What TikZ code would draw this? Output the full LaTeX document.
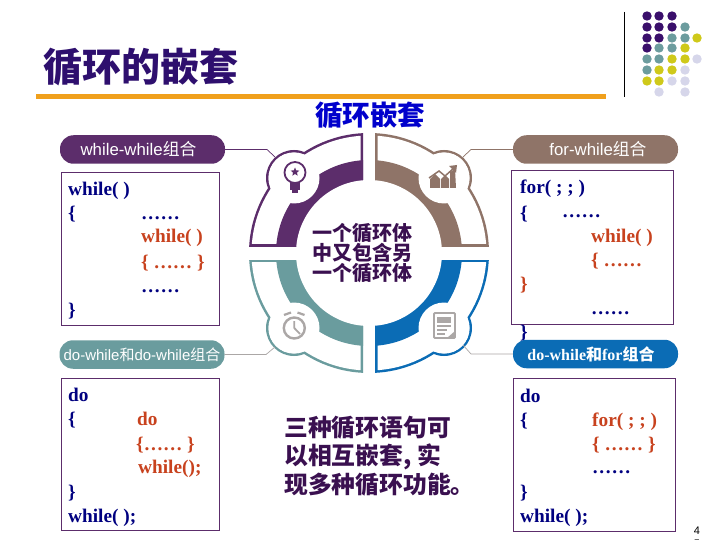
\documentclass[tikz,border=0pt]{standalone}
\usepackage{fontspec}
\setmainfont{Liberation Serif}
\newfontfamily\sansf{Liberation Sans}
\newfontfamily\cjk{Noto Sans CJK SC}
\usetikzlibrary{shapes.geometric}
\definecolor{cPur}{HTML}{5C2D6B}
\definecolor{cBro}{HTML}{8F7468}
\definecolor{cTea}{HTML}{6A9C9E}
\definecolor{cBlu}{HTML}{0B6CB5}
\definecolor{cIco}{HTML}{ABA7A6}
\definecolor{cNavy}{HTML}{000080}
\definecolor{cRed}{HTML}{C8421E}
\definecolor{cDark}{HTML}{3A1050}
\definecolor{cTitle}{HTML}{2E0F6E}
\definecolor{cOra}{HTML}{F0A01C}
\definecolor{dP}{HTML}{3A0F6B}
\definecolor{dT}{HTML}{6C9C9E}
\definecolor{dY}{HTML}{CFC91A}
\definecolor{dL}{HTML}{D6D6EA}
\tikzset{
  pill/.style={rounded corners=13.5pt,minimum width=165pt,minimum height=28.5pt,inner sep=0pt,text=white,font=\fontsize{15}{15}\selectfont},
  codebox/.style={draw=#1,line width=1pt,fill=white},
  codebox/.default={cPur},
  nv/.style={anchor=base west,inner sep=0pt,text=cNavy,font=\fontsize{19.3}{20}\selectfont\bfseries},
  rd/.style={nv,text=cRed},
  cen/.style={anchor=center,inner sep=0pt,text=cDark,font=\fontsize{20}{20}\selectfont\cjk\bfseries},
  low/.style={anchor=west,inner sep=0pt,text=cDark,font=\fontsize{23.8}{24}\selectfont\cjk\bfseries},
  conn/.style={line width=0.7pt},
  dot/.style={radius=4.7pt}
}
\newcommand{\ringquad}[3]{%
  \begin{scope}[shift={(369,253)},xscale=#1,yscale=#2]
    \begin{scope}
      \clip (6,7) rectangle (170,170);
      \fill[#3] (0,0) circle[radius=120];
      \fill[#3] (75,75) circle[radius=28];
    \end{scope}
    \begin{scope}
      \clip (8.5,9.5) rectangle (170,170);
      \fill[white] (0,0) circle[radius=117.5];
      \fill[white] (75,75) circle[radius=25.5];
    \end{scope}
    \begin{scope}
      \clip (6,7) rectangle (170,170);
      \fill[#3] (0,0) circle[radius=93];
      \fill[white] (75,75) circle[radius=25.5];
    \end{scope}
  \end{scope}}
\begin{document}
\begin{tikzpicture}[x=1pt,y=-1pt]
\useasboundingbox (0,0) rectangle (720,540);
\clip (0,0) rectangle (720,540);
\fill[white] (0,0) rectangle (720,540);
% header
\node[anchor=center,inner sep=0pt,text=cTitle,font=\fontsize{39}{39}\selectfont\cjk\bfseries] (title) at (141,67) {循环的嵌套};
\fill[cOra] (36,94) rectangle (606,99);
\draw[black,line width=1pt] (624,12) -- (624,97);
\foreach \x/\y/\c in {647/16/dP,659/16/dP,672/16/dP,
  647/27/dP,659/27/dP,672/27/dP,685/27/dT,
  647/38/dP,659/38/dP,672/38/dT,685/38/dT,697/38/dY,
  647/48/dP,659/48/dT,672/48/dT,685/48/dY,
  647/59/dT,659/59/dT,672/59/dY,685/59/dY,697/59/dL,
  647/70/dT,659/70/dY,672/70/dY,685/70/dL,
  647/81/dY,659/81/dY,672/81/dL,685/81/dL,
  659/92/dL,685/92/dL}{\fill[\c] (\x,\y) circle[dot];}
\node[anchor=center,inner sep=0pt,text=blue!80!black,font=\fontsize{27.5}{28}\selectfont\cjk\bfseries] (sub) at (370,115) {循环嵌套};
% connectors (behind the ring and pills)
\node[pill,fill=cPur] (p1) at (142.5,149.5) {\hspace*{-8pt}\fontsize{16.8}{17}\selectfont\sansf while-while{\cjk 组合}};
\node[pill,fill=cBro] (p2) at (595.5,149.5) {\hspace*{5pt}\fontsize{16.8}{17}\selectfont\sansf for-while{\cjk 组合}};
\coordinate (k1) at (267,149.5); \coordinate (k1e) at (275,157);
\coordinate (k2) at (471,149.5); \coordinate (k2e) at (463,157);
\coordinate (k3) at (266,354.5); \coordinate (k3e) at (275,347);
\coordinate (k4) at (471,354); \coordinate (k4e) at (463,345);
\draw[conn,cPur] (p1.east) -- (k1) -- (k1e);
\draw[conn,cBro] (p2.west) -- (k2) -- (k2e);
% ring
\ringquad{-1}{-1}{cPur}
\ringquad{1}{-1}{cBro}
\ringquad{-1}{1}{cTea}
\ringquad{1}{1}{cBlu}
\fill[white] (369,253) circle[radius=73];
% icons
\draw[cPur,line width=1.8pt] (295,172.5) circle[radius=10.5];
\fill[cPur] (290,183) rectangle (300,190);
\fill[cPur] (292,190) rectangle (298,193);
\node[star,star points=5,star point ratio=2.2,fill=cPur,minimum size=9pt,inner sep=0pt] (bulbstar) at (295,172) {};
\fill[cBro] (430,188) -- (430,179) -- (435,174) -- (440,179) -- (440,188) -- cycle;
\fill[cBro] (441,188) -- (441,179) -- (445,175) -- (449,179) -- (449,188) -- cycle;
\fill[cBro] (450,188) -- (450,172) -- (455,169) -- (456,188) -- cycle;
\draw[cBro,line width=1.5pt] (429,178) -- (439,171) -- (445,176) -- (454,168);
\fill[cBro] (457,165) -- (449,166) -- (456,173) -- cycle;
\draw[cIco,line width=2.4pt] (294.3,328) circle[radius=10.5];
\draw[cIco,line width=1.8pt] (294.3,321) -- (294.3,328) -- (300,334);
\draw[cIco,line width=2.2pt] (284,315) -- (291,312.5);
\draw[cIco,line width=2.2pt] (304.5,315) -- (297.5,312.5);
\draw[cIco,line width=1.8pt,rounded corners=1pt] (434,313) rectangle (455,338);
\fill[cIco] (437,317) rectangle (451,323);
\draw[cIco,line width=1.3pt] (437,326) -- (451,326) (437,330) -- (447,330) (437,334) -- (445,334);
\fill[cIco] (455,331) -- (455,338) -- (447,338) -- cycle;
% centre text
\node[cen] (c1) at (362.5,233) {一个循环体};
\node[cen] (c2) at (362.5,253) {中又包含另};
\node[cen] (c3) at (362.5,273) {一个循环体};
\node[low] (l1) at (284,428) {三种循环语句可};
\node[low] (l2) at (284,457) {以相互嵌套, 实};
\node[low] (l3) at (284,485) {现多种循环功能。};
% boxes
\draw[codebox] (61,173) rectangle (219,325);
\draw[codebox] (61,378) rectangle (219,530);
\draw[codebox] (511,171) rectangle (673,324);
\draw[codebox] (513,378) rectangle (675,531);
% box 1
\node[nv] (a1) at (68,196) {while( )};
\node[nv] (a2) at (68,220) {\{};
\node[nv] (a3) at (141,219) {……};
\node[rd] (a4) at (141,243) {while( )};
\node[rd] (a5) at (141,268) {\{ …… \}};
\node[nv] (a6) at (141,292) {……};
\node[nv] (a7) at (68,316) {\}};
% box 2
\node[nv] (b1) at (68,401) {do};
\node[nv] (b2) at (68,425) {\{};
\node[rd] (b3) at (137,425) {do};
\node[rd] (b4) at (136,450) {\{…… \}};
\node[rd] (b5) at (138,473) {while();};
\node[nv] (b6) at (68,498) {\}};
\node[nv] (b7) at (68,522) {while( );};
% box 3
\node[nv] (d1) at (520,194) {for( ; ; )};
\node[nv] (d2) at (520,219) {\{};
\node[nv] (d3) at (562,218) {……};
\node[rd] (d4) at (591,242) {while( )};
\node[rd] (d5) at (591,266) {\{ ……};
\node[rd] (d6) at (520,290) {\}};
\node[nv] (d7) at (591,314) {……};
\node[nv] (d8) at (520,338) {\}};
% box 4
\node[nv] (e1) at (520,402) {do};
\node[nv] (e2) at (520,426) {\{};
\node[rd] (e3) at (592,426) {for( ; ; )};
\node[rd] (e4) at (592,450) {\{ …… \}};
\node[nv] (e5) at (592,473) {……};
\node[nv] (e6) at (520,498) {\}};
\node[nv] (e7) at (520,522) {while( );};
% lower pills
\node[pill,fill=cTea] (p3) at (142,354.5) {\sansf do-while{\cjk 和}do-while{\cjk 组合}};
\node[pill,fill=cBlu] (p4) at (595.5,354) {\hspace*{-9pt}\fontsize{16}{16}\selectfont\bfseries do-while{\cjk 和}for{\cjk 组合}};
\draw[conn,cIco] (p3.east) -- (k3) -- (k3e);
\draw[conn,cIco] (p4.west) -- (k4) -- (k4e);
% page number
\node[anchor=center,inner sep=0pt,font=\fontsize{11}{11}\selectfont\sansf] (pn1) at (697,531) {4};
\node[anchor=center,inner sep=0pt,font=\fontsize{11}{11}\selectfont\sansf] (pn2) at (697,544) {5};
\end{tikzpicture}
\end{document}
